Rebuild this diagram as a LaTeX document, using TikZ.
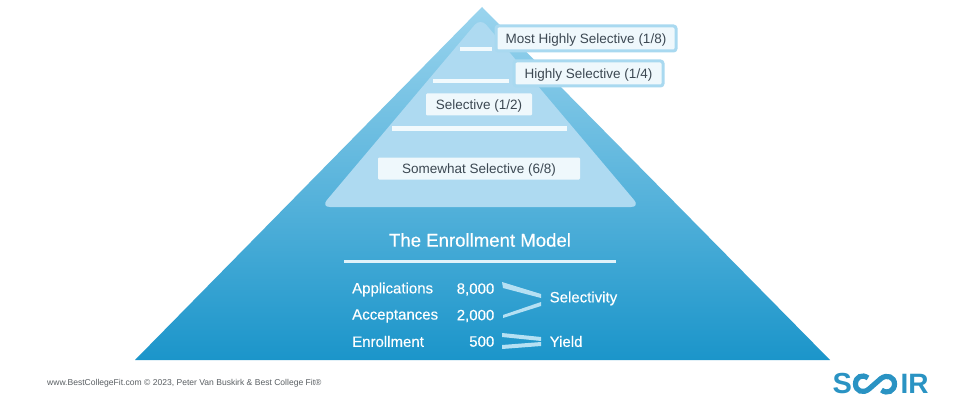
\documentclass[tikz,border=0pt]{standalone}
\usepackage{fontspec}
\setmainfont{Liberation Sans}
\newfontfamily\medfont[FakeBold=0.25]{Liberation Sans}
\definecolor{pyrtop}{HTML}{9AD4EE}
\definecolor{pyrbot}{HTML}{1B95CA}
\definecolor{inner}{HTML}{AEDAF1}
\definecolor{chip}{HTML}{EFF8FC}
\definecolor{chipedge}{HTML}{A9D9F0}
\definecolor{ink}{HTML}{3C4852}
\definecolor{foot}{HTML}{5A5F63}
\definecolor{logo}{HTML}{2A93C3}
\definecolor{rulew}{HTML}{F2FAFD}
\definecolor{taper}{HTML}{B5E0F3}
\tikzset{
  chipbox/.style={draw=none,fill=chip,rounded corners=1.2pt,text=ink,font=\fontsize{13.5}{15}\selectfont,inner sep=0pt,anchor=center,text height=10.8pt,text depth=0pt},
  edgebox/.style={chipbox,draw=chipedge,line width=3pt,rounded corners=2.5pt},
  wlabel/.style={text=white,font=\medfont\fontsize{15}{17}\selectfont,inner sep=0pt},
  rulebar/.style={fill=rulew,draw=none},
  taperbar/.style={fill=taper,draw=none}
}
\begin{document}
\begin{tikzpicture}[x=1pt,y=-1pt]
\useasboundingbox (0,0) rectangle (960,417);
\fill[white] (0,0) rectangle (960,417);
% pyramid
\shade[top color=pyrtop,bottom color=pyrbot] (482,7) -- (830,360) -- (135,360) -- cycle;
\fill[inner,rounded corners=9pt] (480.5,18) -- (640,207) -- (321,207) -- cycle;
% rules
\fill[rulebar] (460,47) rectangle (492,51);
\fill[rulebar] (433,79) rectangle (509,83);
\fill[rulebar] (392,126) rectangle (567,131);
\fill[white!70!pyrtop] (344,260) rectangle (616,263);
% chips
\node[edgebox,minimum width=180pt,minimum height=25pt] (most) at (586,38.5) {Most Highly Selective (1/8)};
\node[edgebox,minimum width=149pt,minimum height=25pt] (high) at (588.5,73.5) {Highly Selective (1/4)};
\node[chipbox,minimum width=106pt,minimum height=22pt] (sel) at (479,104.5) {Selective (1/2)};
\node[chipbox,minimum width=202pt,minimum height=22pt] (some) at (479,168.5) {Somewhat Selective (6/8)};
% model
\node[text=white,font=\medfont\fontsize{18.6}{20}\selectfont,inner sep=0pt] (title) at (480,240) {The Enrollment Model};
\node[wlabel,anchor=west] (app) at (352,289.5) {Applications};
\node[wlabel,anchor=west] (acc) at (352,316) {Acceptances};
\node[wlabel,anchor=west] (enr) at (352,341.5) {Enrollment};
\node[wlabel,anchor=east] (n1) at (494.5,289.5) {8,000};
\node[wlabel,anchor=east] (n2) at (494.5,316) {2,000};
\node[wlabel,anchor=east] (n3) at (494.5,341.5) {500};
\node[wlabel,anchor=west] (sv) at (549.5,298.5) {Selectivity};
\node[wlabel,anchor=west] (yd) at (549.5,341.5) {Yield};
% tapered connectors
\fill[taperbar] (502,282) -- (541,294) -- (541,298) -- (503,288) -- cycle;
\fill[taperbar] (503,315) -- (541,302) -- (541,306) -- (503,318) -- cycle;
\fill[taperbar] (502,333) -- (541,337) -- (541,341) -- (502,337) -- cycle;
\fill[taperbar] (502,345) -- (541,342) -- (541,346) -- (502,349) -- cycle;
% footer
\node[text=foot,font=\fontsize{8.55}{10}\selectfont,inner sep=0pt,anchor=west] (foot) at (47,383.5) {www.BestCollegeFit.com © 2023, Peter Van Buskirk \& Best College Fit®};
% logo
\node[text=logo,font=\bfseries\fontsize{29}{30}\selectfont,inner sep=0pt,anchor=west] (ls) at (832.5,383.5) {S};
\draw[logo,line width=5.2pt,line cap=butt] (868,378) .. controls (862,373.5) and (855.5,377) .. (855.5,384) .. controls (855.5,391) and (863,394) .. (869,389) -- (881,378.5) .. controls (887,374) and (894.5,377) .. (894.5,384) .. controls (894.5,391) and (887,394.5) .. (881.5,390);
\node[text=logo,font=\bfseries\fontsize{28}{30}\selectfont,inner sep=0pt,anchor=west] (lr) at (900.5,383.5) {IR};
\end{tikzpicture}
\end{document}
